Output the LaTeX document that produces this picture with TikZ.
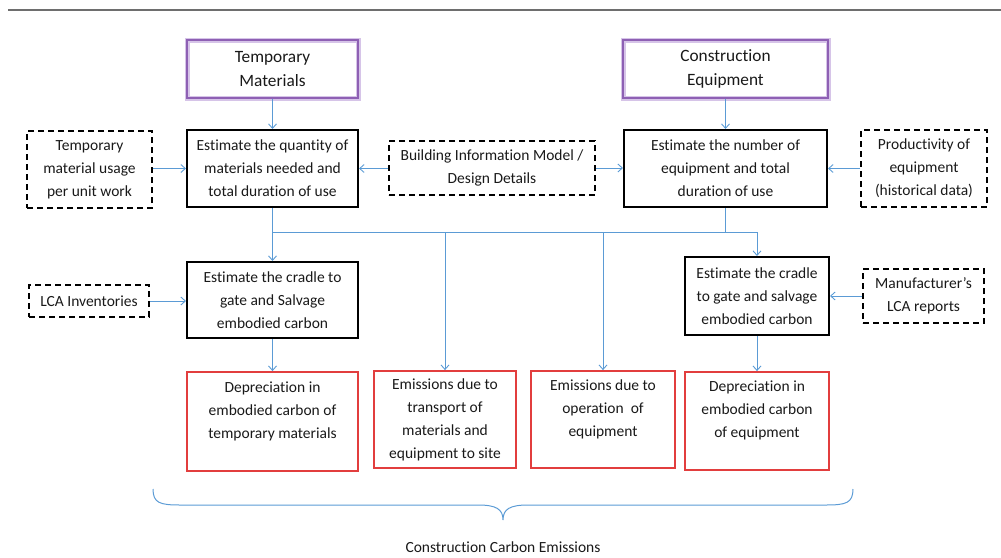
\documentclass[tikz,border=0pt]{standalone}
\usepackage{fontspec}
\setmainfont{Carlito}[Ligatures=NoCommon]
\usetikzlibrary{arrows.meta}
\definecolor{pur}{RGB}{142,96,180}
\definecolor{purglow}{RGB}{214,196,232}
\definecolor{redb}{RGB}{226,62,62}
\definecolor{bluel}{RGB}{91,155,213}
\definecolor{topgray}{RGB}{110,110,110}
\tikzset{
  base/.style={rectangle, inner sep=0pt, align=center, font=\fontsize{15.5}{23}\selectfont, text=black!90},
  headbox/.style={base, draw=pur, line width=2.2pt, font=\fontsize{17.3}{24}\selectfont,
     preaction={draw=purglow, line width=5pt}},
  solidbox/.style={base, draw=black, line width=2pt},
  dashbox/.style={base, draw=black, line width=2pt, dash pattern=on 6pt off 4pt},
  redbox/.style={base, draw=redb, line width=1.8pt},
  conn/.style={draw=bluel, line width=1pt, -{Straight Barb[length=4.5pt,width=8pt,line width=0.9pt]}},
  plain/.style={draw=bluel, line width=1pt},
}
\begin{document}
\begin{tikzpicture}[x=1pt,y=-1pt]
\useasboundingbox (0,0) rectangle (1001,557);
\draw[topgray, line width=1.2pt] (8,10) -- (1001,10);

% header boxes
\node[headbox, minimum width=171pt, minimum height=58pt] (tm) at (272.5,69) {Temporary\\Materials};
\node[headbox, minimum width=205pt, minimum height=58pt] (ce) at (725.5,69) {Construction\\Equipment};

% estimate boxes
\node[solidbox, minimum width=171pt, minimum height=77pt] (eq) at (272.5,168.5) {Estimate the quantity of\\materials needed and\\total duration of use};
\node[solidbox, minimum width=203pt, minimum height=77pt] (en) at (725.5,168.5) {Estimate the number of\\equipment and total\\duration of use};

% dashed inputs
\node[dashbox, minimum width=125pt, minimum height=77pt] (tu) at (89.5,169.5) {Temporary\\material usage\\per unit work};
\node[dashbox, minimum width=206pt, minimum height=54pt] (bim) at (492,168) {Building Information Model /\\Design Details};
\node[dashbox, minimum width=126pt, minimum height=77pt] (pr) at (924,168.5) {Productivity of\\equipment\\(historical data)};
\node[dashbox, minimum width=120pt, minimum height=32pt] (lca) at (89,301) {LCA Inventories};
\node[dashbox, minimum width=121pt, minimum height=54pt] (mf) at (923.5,296) {Manufacturer’s\\LCA reports};

% cradle boxes
\node[solidbox, minimum width=171pt, minimum height=76pt] (cl) at (272.5,300) {Estimate the cradle to\\gate and Salvage\\embodied carbon};
\node[solidbox, minimum width=144pt, minimum height=78pt] (cr) at (757,296) {Estimate the cradle\\to gate and salvage\\embodied carbon};

% red result boxes
\node[redbox, minimum width=171pt, minimum height=99pt] (r1) at (272.5,421.5) {Depreciation in\\embodied carbon of\\temporary materials\\\mbox{}};
\node[redbox, minimum width=142pt, minimum height=97pt] (r2) at (445,419.5) {Emissions due to\\transport of\\materials and\\equipment to site};
\node[redbox, minimum width=144pt, minimum height=97pt] (r3) at (603,419.5) {Emissions due to\\operation~ of\\equipment\\\mbox{}};
\node[redbox, minimum width=144pt, minimum height=98pt] (r4) at (757,421) {Depreciation in\\embodied carbon\\of equipment\\\mbox{}};

% connectors
\draw[conn] (tm.south) -- (eq.north);
\draw[conn] (ce.south) -- (en.north);
\draw[conn] (tu.east |- eq.center) -- (eq.west);
\draw[conn] (bim.west |- eq.center) -- (eq.east);
\draw[conn] (bim.east) -- (en.west |- bim.east);
\draw[conn] (pr.west |- en.center) -- (en.east);
\draw[conn] (lca.east) -- (cl.west |- lca.east);
\draw[conn] (mf.west) -- (cr.east |- mf.west);
\coordinate (j1) at (272.5,232);
\coordinate (j2) at (725.5,232);
\draw[conn] (eq.south) -- (cl.north);
\draw[plain] (j1) -- (j2);
\draw[conn] (j1) -| (r2.north);
\draw[plain] (en.south) -- (j2);
\draw[conn] (j2) -| (r3.north);
\draw[conn] (j2) -| (cr.north);
\draw[conn] (cl.south) -- (r1.north);
\draw[conn] (cr.south) -- (r4.north);

% brace
\draw[bluel, line width=1pt] (153,489) .. controls (153,503) and (160,505) .. (180,505) -- (478,505)
  .. controls (496,505) and (503,509) .. (503,520)
  .. controls (503,509) and (510,505) .. (528,505) -- (826,505)
  .. controls (846,505) and (853,503) .. (853,489);
\node[base] (total) at (503,547) {Construction Carbon Emissions};
\end{tikzpicture}
\end{document}
